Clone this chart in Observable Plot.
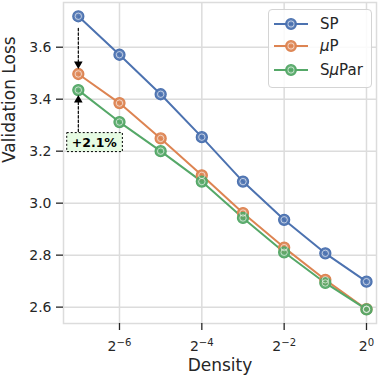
<!DOCTYPE html>
<html>
<head>
<meta charset="utf-8">
<script src="https://cdn.jsdelivr.net/npm/d3@7"></script>
<script src="https://cdn.jsdelivr.net/npm/@observablehq/plot@0.6"></script>
<style>
  html, body { margin: 0; padding: 0; background: #fff; }
  #chart { position: relative; width: 382px; height: 376px; font-family: "DejaVu Sans", sans-serif; }
  #legend { position: absolute; left: 268px; top: 9px; width: 104px; height: 79px; box-sizing: border-box;
    border: 1px solid #d4d4d4; border-radius: 4px; background: rgba(255,255,255,0.85); }
  .row { position: absolute; left: 4px; height: 22px; display: flex; align-items: center; font-size: 15px; color: #262626; }
  .row svg { margin-right: 11px; }
</style>
</head>
<body>
<div id="chart"></div>
<script>
// ---- data ----
const density = [2**-7, 2**-6, 2**-5, 2**-4, 2**-3, 2**-2, 2**-1, 2**0];
const seriesNames = ["SP", "μP", "SμPar"];
const seriesColors = ["#4C72B0", "#DD8452", "#55A868"];
const spLoss    = [3.719, 3.571, 3.419, 3.254, 3.083, 2.936, 2.807, 2.698];
const mupLoss   = [3.497, 3.385, 3.249, 3.107, 2.962, 2.829, 2.705, 2.592];
const suparLoss = [3.435, 3.312, 3.200, 3.083, 2.943, 2.811, 2.693, 2.591];
const yTicks = [2.6, 2.8, 3.0, 3.2, 3.4, 3.6];
const xTicks = [2**-6, 2**-4, 2**-2, 2**0];
const xLabel = "Density";
const yLabel = "Validation Loss";
const gainText = "+2.1%";
const gainLabelY = 3.233;

const lossBySeries = [spLoss, mupLoss, suparLoss];
const rows = [];
seriesNames.forEach((name, i) => density.forEach((d, j) => rows.push({series: name, density: d, loss: lossBySeries[i][j]})));

const fmtPow = d => "2|" + String(Math.round(Math.log2(d))).replace("-", "−");

const ann = [{x: density[0], sp: spLoss[0], mup: mupLoss[0], supar: suparLoss[0], labelY: gainLabelY, text: gainText}];

const ink = "#262626";
const gridColor = "#dcdcdc";

const plot = Plot.plot({
  width: 382,
  height: 376,
  marginLeft: 63,
  marginRight: 6,
  marginTop: 2,
  marginBottom: 53,
  style: {fontFamily: "DejaVu Sans, sans-serif", fontSize: "14px", color: ink, background: "white"},
  x: {type: "log", base: 2, domain: [2**-7.36, 2**0.243]},
  y: {domain: [2.537, 3.772]},
  color: {domain: seriesNames, range: seriesColors},
  marks: [
    Plot.gridY({ticks: yTicks, stroke: gridColor, strokeOpacity: 1, strokeWidth: 1.5}),
    Plot.gridX({ticks: xTicks, stroke: gridColor, strokeOpacity: 1, strokeWidth: 1.5}),
    Plot.frame({stroke: gridColor, strokeWidth: 1.5}),
    Plot.axisY({ticks: yTicks, tickFormat: d3.format(".1f"), tickSize: 7, tickPadding: 5, strokeWidth: 1.3,
      label: null, fontSize: 14}),
    Plot.axisX({ticks: xTicks, tickFormat: fmtPow, tickSize: 7, tickPadding: 11, strokeWidth: 1.3,
      label: null, fontSize: 14}),
    Plot.text([xLabel], {text: d => d, frameAnchor: "bottom", dy: 42, lineAnchor: "middle", fontSize: 17, fill: ink}),
    Plot.text([yLabel], {text: d => d, frameAnchor: "left", rotate: -90, dx: -54, lineAnchor: "middle", fontSize: 17, fill: ink}),
    Plot.line(rows, {x: "density", y: "loss", z: "series", stroke: "series", strokeWidth: 2}),
    Plot.dot(rows, {x: "density", y: "loss", fill: "series", fillOpacity: 0.9, stroke: "series", r: 5.5, strokeWidth: 1.3}),
    Plot.dot(rows, {x: "density", y: "loss", r: 3.2, fill: "none", stroke: "white", strokeOpacity: 0.6, strokeWidth: 1}),
    // annotation: SP -> muP
    Plot.arrow(ann, {x: "x", y1: "sp", y2: "mup", insetStart: 12, insetEnd: 8, headLength: 0, stroke: "black", strokeWidth: 1.2, strokeDasharray: "2.5,2"}),
    Plot.dot(ann, {x: "x", y: "mup", symbol: "triangle", r: 3.2, fill: "black", rotate: 180, dy: -10}),
    // annotation: label -> SμPar
    Plot.arrow(ann, {x: "x", y1: "labelY", y2: "supar", insetStart: 11, insetEnd: 10, headLength: 0, stroke: "black", strokeWidth: 1.2, strokeDasharray: "2.5,2"}),
    Plot.dot(ann, {x: "x", y: "supar", symbol: "triangle", r: 3.2, fill: "black", dy: 10}),
    Plot.text(ann, {x: "x", y: "labelY", text: "text", dx: 16, fontWeight: "bold", fontSize: 12.5, fill: "black", className: "gain"})
  ]
});

const chart = document.getElementById("chart");
chart.appendChild(plot);

// superscript exponents on x tick labels
d3.select(plot).selectAll("text").each(function() {
  const t = this.textContent;
  if (t.includes("|") && this.childElementCount === 0) {
    const [base, exp] = t.split("|");
    this.textContent = base;
    d3.select(this).append("tspan").attr("dy", "-0.5em").attr("font-size", "0.72em").text(exp);
  } else if (t.includes("|")) {
    d3.select(this).selectAll("tspan").each(function() {
      const tt = this.textContent;
      if (tt.includes("|")) {
        const [base, exp] = tt.split("|");
        this.textContent = base;
        d3.select(this.parentNode).append("tspan").attr("dy", "-0.5em").attr("font-size", "0.72em").text(exp);
      }
    });
  }
});

// box behind gain label
d3.select(plot).selectAll("g.gain text").each(function() {
  const b = this.getBBox();
  d3.select(this.parentNode).insert("rect", "text")
    .attr("transform", this.getAttribute("transform"))
    .attr("x", b.x - 5).attr("y", b.y - 2).attr("width", b.width + 10).attr("height", b.height + 4)
    .attr("fill", "#e6fbe3").attr("stroke", "black").attr("stroke-width", 1).attr("stroke-dasharray", "2,2");
});

// legend
const legend = document.createElement("div");
legend.id = "legend";
const rowTops = [3, 25, 49];
seriesNames.forEach((name, i) => {
  const r = document.createElement("div");
  r.className = "row";
  r.style.top = rowTops[i] + "px";
  const c = seriesColors[i];
  const label = name.replace("μ", "<i>μ</i>");
  r.innerHTML = `<svg width="36" height="14"><line x1="1" x2="35" y1="7" y2="7" stroke="${c}" stroke-width="2"/>` +
    `<circle cx="18" cy="7" r="5.3" fill="${c}" fill-opacity="0.9" stroke="${c}" stroke-width="1.3"/>` +
    `<circle cx="18" cy="7" r="3.1" fill="none" stroke="white" stroke-opacity="0.6" stroke-width="1"/></svg><span>${label}</span>`;
  legend.appendChild(r);
});
chart.appendChild(legend);
</script>
</body>
</html>
